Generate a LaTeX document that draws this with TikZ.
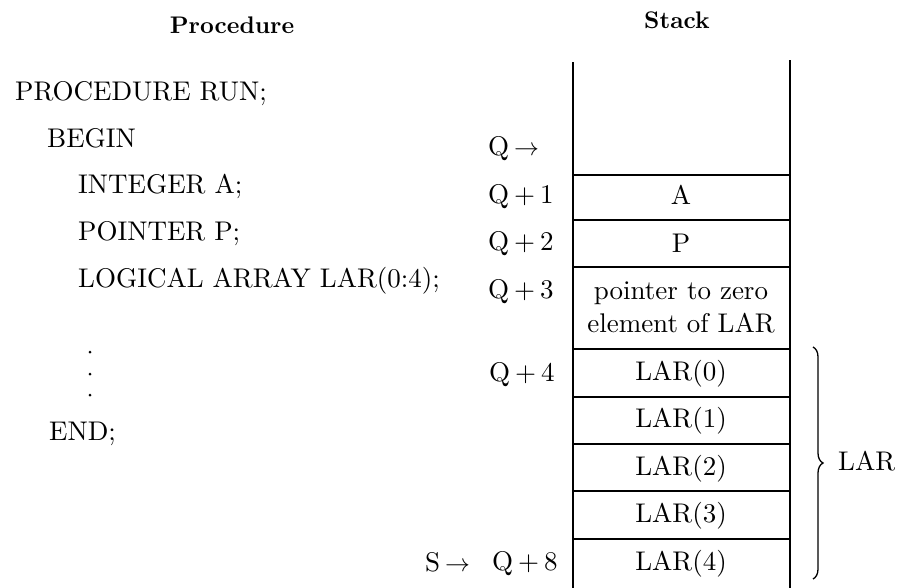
\documentclass[tikz,border=0pt]{standalone}
\usepackage{fontspec}
\setmainfont{lmroman10}[Extension=.otf, UprightFont=*-regular, BoldFont=*-bold, ItalicFont=*-italic, BoldItalicFont=*-bolditalic]
\usetikzlibrary{decorations.pathreplacing}
\newcommand{\qsp}{\hspace{5pt}}
\begin{document}
\begin{tikzpicture}[x=1pt,y=-1pt,
  txt/.style={inner sep=0pt, font=\fontsize{27}{32}\selectfont},
  code/.style={txt, anchor=base west},
  cell/.style={txt, anchor=base},
  lbl/.style={txt, anchor=base west},
  head/.style={inner sep=0pt, anchor=base, font=\fontsize{24}{28}\selectfont\bfseries},
  stackline/.style={line width=1.4pt},
  divider/.style={line width=1.4pt}]
\useasboundingbox (0,0) rectangle (907,587);
% headers
\node[head] (hproc) at (232,33) {Procedure};
\node[head] (hstack) at (677,28) {Stack};
% code
\node[code] (l1) at (15,100) {PROCEDURE RUN;};
\node[code] (l2) at (47,147) {BEGIN};
\node[code] (l3) at (78,193) {INTEGER A;};
\node[code] (l4) at (78,240) {POINTER P;};
\node[code] (l5) at (78,287) {LOGICAL ARRAY LAR(0:4);};
\fill (90,352) circle (1.5) (90,374) circle (1.5) (90,395) circle (1.5);
\node[code] (l6) at (49,440) {END;};
% stack frame
\coordinate (tl) at (573,62);
\coordinate (tr) at (790,60);
\coordinate (bl) at (573,600);
\coordinate (br) at (790,600);
\draw[stackline] (tl) -- (bl);
\draw[stackline] (tr) -- (br);
\foreach \y in {175,220,267,349,397,444,491,539}
  \draw[divider] (573,\y) -- (790,\y);
% cell contents
\node[cell] (cA) at (681,204) {A};
\node[cell] (cP) at (681,252) {P};
\node[cell] (cptr1) at (681,299) {pointer to zero};
\node[cell] (cptr2) at (681,332) {element of LAR};
\node[cell] (c0) at (681,380) {LAR(0)};
\node[cell] (c1) at (681,427) {LAR(1)};
\node[cell] (c2) at (681,475) {LAR(2)};
\node[cell] (c3) at (681,522) {LAR(3)};
\node[cell] (c4) at (681,570) {LAR(4)};
% address labels
\node[lbl] (q0) at (488,155) {Q\qsp$\rightarrow$};
\node[lbl] (q1) at (488,203) {Q\qsp+\qsp1};
\node[lbl] (q2) at (488,250) {Q\qsp+\qsp2};
\node[lbl] (q3) at (488,298) {Q\qsp+\qsp3};
\node[lbl] (q4) at (489,381) {Q\qsp+\qsp4};
\node[lbl] (q8) at (492,570) {Q\qsp+\qsp8};
\node[lbl] (s) at (425,571) {S\qsp$\rightarrow$};
% brace
\coordinate (btop) at (813,347);
\coordinate (bbot) at (813,579);
\draw[line width=1.3pt, decorate, decoration={brace, amplitude=10pt}] (btop) -- (bbot);
\node[lbl] (lar) at (838,470) {LAR};
\end{tikzpicture}
\end{document}
